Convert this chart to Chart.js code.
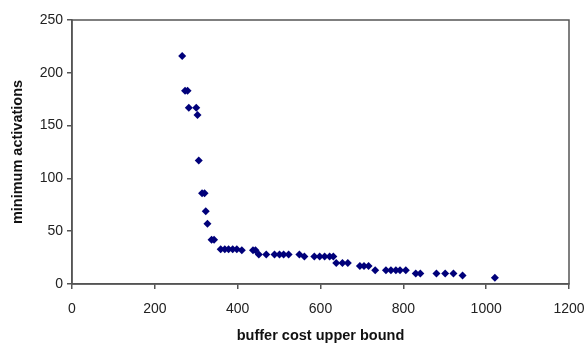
<!DOCTYPE html>
<html>
<head>
<meta charset="utf-8">
<script src="https://cdn.jsdelivr.net/npm/chart.js@4/dist/chart.umd.min.js"></script>
<style>
  html, body { margin: 0; padding: 0; background: #fff; }
  #wrap { width: 588px; height: 345px; }
</style>
</head>
<body>
<div id="wrap"><canvas id="c"></canvas></div>
<script>
// buffer cost upper bound (x) vs minimum activations (y)
const bufferCost = [266, 273, 279, 282, 300, 303, 306, 314, 320, 323, 327, 337, 343,
  359, 369, 378, 388, 398, 410, 437, 443,
  451, 469, 489, 501, 511, 523, 549,
  561, 585, 598, 610, 622, 631,
  638, 653, 666, 695, 705, 716,
  732, 758, 770, 782, 792, 806,
  830, 841, 880, 901, 921, 943, 1021];
const minActivations = [216, 183, 183, 167, 167, 160, 117, 86, 86, 69, 57, 42, 42,
  33, 33, 33, 33, 33, 32, 32, 32,
  28, 28, 28, 28, 28, 28, 28,
  26, 26, 26, 26, 26, 26,
  20, 20, 20, 17, 17, 17,
  13, 13, 13, 13, 13, 13,
  10, 10, 10, 10, 10, 8, 6];
const xTicks = [0, 200, 400, 600, 800, 1000, 1200];
const yTicks = [0, 50, 100, 150, 200, 250];

const points = bufferCost.map((x, i) => ({ x: x, y: minActivations[i] }));

// draws the box round the plot area
const frame = {
  id: 'frame',
  afterDraw(chart) {
    const a = chart.chartArea;
    const ctx = chart.ctx;
    ctx.save();
    ctx.strokeStyle = '#555';
    ctx.lineWidth = 1.5;
    ctx.strokeRect(a.left, a.top, a.right - a.left, a.bottom - a.top);
    ctx.restore();
  }
};

const tickFont = { family: 'Liberation Sans, Arial, sans-serif', size: 14 };
const titleFont = { family: 'Liberation Sans, Arial, sans-serif', size: 14.5, weight: 'bold' };

new Chart(document.getElementById('c'), {
  type: 'scatter',
  data: {
    datasets: [{
      label: 'minimum activations',
      data: points,
      pointStyle: 'rectRot',
      pointRadius: 4,
      backgroundColor: '#00007a',
      borderColor: '#00007a',
      borderWidth: 0
    }]
  },
  options: {
    responsive: true,
    maintainAspectRatio: false,
    animation: false,
    layout: { padding: { top: 20, right: 19, left: 0, bottom: 0 } },
    plugins: { legend: { display: false }, tooltip: { enabled: false } },
    scales: {
      x: {
        type: 'linear',
        min: 0, max: 1200,
        afterBuildTicks: s => { s.ticks = xTicks.map(v => ({ value: v })); },
        afterFit: s => { s.height = 61; s.paddingLeft = 0; s.paddingRight = 0; },
        ticks: { font: tickFont, color: '#222', padding: 12, maxRotation: 0, callback: v => String(v) },
        grid: { drawOnChartArea: false, color: '#555', tickLength: 5, lineWidth: 1.5 },
        border: { color: '#555', width: 1.5 },
        title: { display: true, text: 'buffer cost upper bound', font: titleFont, color: '#111', padding: { top: 4, bottom: 0 } }
      },
      y: {
        min: 0, max: 250,
        afterBuildTicks: s => { s.ticks = yTicks.map(v => ({ value: v })); },
        afterFit: s => { s.width = 72; },
        ticks: { font: tickFont, color: '#222', padding: 4, callback: v => String(v) },
        grid: { drawOnChartArea: false, color: '#555', tickLength: 5, lineWidth: 1.5 },
        border: { color: '#555', width: 1.5 },
        title: { display: true, text: 'minimum activations', font: titleFont, color: '#111', padding: { bottom: 0, top: 9 } }
      }
    }
  },
  plugins: [frame]
});
</script>
</body>
</html>
